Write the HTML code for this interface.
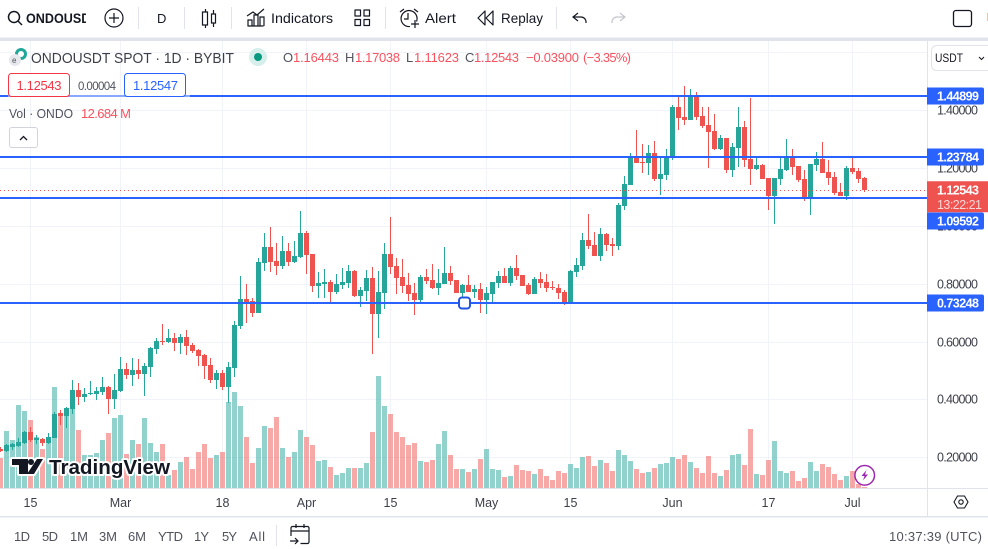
<!DOCTYPE html>
<html lang="en">
<head>
<meta charset="utf-8">
<title>ONDOUSDT SPOT 1D BYBIT chart</title>
<style>
html,body{margin:0;padding:0;background:#fff;width:988px;height:549px;overflow:hidden}
svg{display:block;font-family:"Liberation Sans",sans-serif}
text{white-space:pre}
.ui{fill:#131722;font-size:14px}
.mut{fill:#50535e;font-size:13px}
.red{fill:#f23645;font-size:13px}
.sell{fill:#f7525f;font-size:13px}
.ic{fill:none;stroke:#131722;stroke-width:1.2}
</style>
</head>
<body>
<svg id="chart" xmlns="http://www.w3.org/2000/svg" width="988" height="549" viewBox="0 0 988 549">
  <rect x="0" y="0" width="988" height="549" fill="#fff"/>
  <g id="plot"></g>

  <g>
    <path d="M12 459H28V474H19V465H12ZM31 459a3 3 0 1 1-.01 0ZM37 459H43L34 474H27Z" fill="#131722" stroke="#fff" stroke-width="4" paint-order="stroke" stroke-linejoin="round"/>
    <text x="49" y="474" font-size="20" font-weight="700" fill="#131722" stroke="#fff" stroke-width="4" paint-order="stroke" stroke-linejoin="round" textLength="121" lengthAdjust="spacingAndGlyphs">TradingView</text>
  </g>

  <g>
    <rect x="0" y="0" width="988" height="38" fill="#fff"/>
    <rect x="0" y="37.5" width="988" height="3.5" fill="#e0e3eb"/>
    <g>
      <circle cx="14" cy="17" r="5.5" fill="none" stroke="#131722" stroke-width="1.5"/>
      <path d="M18 21L22 25" stroke="#131722" stroke-width="1.5"/>
      <svg x="26" y="6" width="60" height="24"><text x="0" y="17" font-size="14" font-weight="700" fill="#131722" textLength="72" lengthAdjust="spacingAndGlyphs">ONDOUSDT</text></svg>
    </g>
    <g>
      <circle cx="114" cy="18" r="9" fill="none" stroke="#131722" stroke-width="1.2"/>
      <path d="M109 18H119M114 13V23" stroke="#131722" stroke-width="1.2"/>
    </g>
    <rect x="138" y="7" width="1" height="22" fill="#e0e3eb"/>
    <text x="157" y="23" font-size="13" fill="#131722">D</text>
    <rect x="184" y="7" width="1" height="22" fill="#e0e3eb"/>
    <path class="ic" d="M205.5 9V12M202.5 12h5v13h-5zM205.5 25V28M213.5 10V14M211.5 14h4v9h-4zM213.5 23V27"/>
    <rect x="231" y="7" width="1" height="22" fill="#e0e3eb"/>
    <g>
      <path class="ic" d="M247.5 26h16M248 26v-6h4v6M254 26V15h4v11M260 26v-9h4v9M247 16l6-4 4 3 7-6"/>
      <text class="ui" x="271" y="23" textLength="62" lengthAdjust="spacingAndGlyphs">Indicators</text>
    </g>
    <path class="ic" d="M355 10h5.500v6h-5.500zM364 10h5.500v6h-5.500zM355 19.500h5.500v6h-5.500zM364 19.500h5.500v6h-5.500z" stroke-linejoin="round"/>
    <rect x="385" y="7" width="1" height="22" fill="#e0e3eb"/>
    <g>
      <path class="ic" d="M410 26.500a8 8 0 1 1 6.500-5M408 13v6h-4M400 12l4-3M414 9l4 3M415 20v8M411 24h8"/>
      <text class="ui" x="425" y="23" textLength="31" lengthAdjust="spacingAndGlyphs">Alert</text>
    </g>
    <g>
      <path class="ic" d="M485 11l-7 7 7 7zM493 11l-7 7 7 7z" stroke-linejoin="round"/>
      <text class="ui" x="501" y="23" textLength="42" lengthAdjust="spacingAndGlyphs">Replay</text>
    </g>
    <rect x="556" y="7" width="1" height="22" fill="#e0e3eb"/>
    <path class="ic" d="M578 13l-5 4 5 4M573 17h8a5 5 0 0 1 5 5v1"/>
    <path fill="none" stroke="#c4c6cd" stroke-width="1.2" d="M620 13l5 4-5 4M625 17h-8a5 5 0 0 0-5 5v1"/>
    <rect x="953.500" y="10.500" width="18" height="16" rx="2.500" fill="none" stroke="#131722" stroke-width="1.300"/>
    <rect x="987" y="13" width="1" height="8" fill="#f5c28b"/>
  </g>

  <g>
    <circle cx="21" cy="54" r="6" fill="#1fa89a"/>
    <circle cx="21" cy="54" r="3" fill="#fff"/>
    <circle cx="15" cy="60" r="6" fill="#e6e8ee"/>
    <text x="12" y="63" font-size="8" fill="#50535e">e</text>
    <text x="31" y="63" font-size="15" fill="#3c3f49" textLength="203" lengthAdjust="spacingAndGlyphs">ONDOUSDT SPOT · 1D · BYBIT</text>
    <circle cx="258" cy="57" r="9" fill="#d6efeb"/>
    <circle cx="258" cy="57" r="4" fill="#089981"/>
    <text class="mut" x="283" y="62">O</text>
    <text class="sell" x="293" y="62" textLength="46">1.16443</text>
    <text class="mut" x="345" y="62">H</text>
    <text class="sell" x="355" y="62" textLength="45">1.17038</text>
    <text class="mut" x="406" y="62">L</text>
    <text class="sell" x="414" y="62" textLength="45">1.11623</text>
    <text class="mut" x="465" y="62">C</text>
    <text class="sell" x="474" y="62" textLength="45">1.12543</text>
    <text class="sell" x="526" y="62" textLength="53">−0.03900</text>
    <text class="sell" x="583" y="62" textLength="48">(−3.35%)</text>

    <rect x="8.500" y="73.500" width="61" height="23" rx="3" fill="#fff" stroke="#f23645"/>
    <text class="red" x="16.500" y="90" textLength="45">1.12543</text>
    <text x="78" y="90" font-size="11.500" fill="#50535e" textLength="38">0.00004</text>
    <rect x="124.500" y="73.500" width="61" height="23" rx="3" fill="#fff" stroke="#2962ff"/>
    <text x="133" y="90" font-size="13" fill="#2962ff" textLength="45">1.12547</text>

    <text class="mut" x="9" y="118" textLength="64" lengthAdjust="spacingAndGlyphs">Vol · ONDO</text>
    <text class="sell" x="81" y="118" textLength="50">12.684 M</text>
    <rect x="9.500" y="127.500" width="28" height="20" rx="2.500" fill="#fff" stroke="#d1d4dc"/>
    <path d="M20 140l3.500-3.500 3.500 3.500" fill="none" stroke="#131722" stroke-width="1.300"/>
  </g>

  <g>
    <rect x="931.500" y="45.500" width="62" height="25" rx="5" fill="#fff" stroke="#e0e3eb"/>
    <text x="935" y="62" font-size="12" fill="#131722" textLength="28" lengthAdjust="spacingAndGlyphs">USDT</text>
    <path d="M979 57l2.500 2.500 2.500-2.500" fill="none" stroke="#131722"/>
  </g>

  <g>
    <rect x="459" y="297.500" width="11" height="11" rx="3" fill="#fff" stroke="#2254e0" stroke-width="2"/>
  </g>

  <g>
    <circle cx="864.700" cy="475.300" r="9.800" fill="#fff" stroke="#9c27b0" stroke-width="1.500"/>
    <path d="M866.500 470l-5 6h3l-1.500 4.500 5-6h-3z" fill="#9c27b0"/>
  </g>

  <g>
    <path d="M954 502l3.500-6h7l3.500 6-3.500 6h-7z" fill="none" stroke="#131722" stroke-width="1.100"/>
    <circle cx="961" cy="502" r="2.200" fill="none" stroke="#131722" stroke-width="1.100"/>
  </g>

  <g>
    <rect x="0" y="516" width="988" height="1.500" fill="#e0e3eb"/>
    <text x="14" y="541" font-size="13" fill="#50535e" textLength="16">1D</text>
    <text x="42" y="541" font-size="13" fill="#50535e" textLength="16">5D</text>
    <text x="70" y="541" font-size="13" fill="#50535e" textLength="18">1M</text>
    <text x="99" y="541" font-size="13" fill="#50535e" textLength="18">3M</text>
    <text x="128" y="541" font-size="13" fill="#50535e" textLength="18">6M</text>
    <text x="158" y="541" font-size="13" fill="#50535e" textLength="25">YTD</text>
    <text x="194" y="541" font-size="13" fill="#50535e" textLength="15">1Y</text>
    <text x="222" y="541" font-size="13" fill="#50535e" textLength="15">5Y</text>
    <text x="249" y="541" font-size="13" fill="#50535e" textLength="16">All</text>
    <rect x="276" y="525" width="1" height="21" fill="#e0e3eb"/>
    <path class="ic" d="M291 536v-8a1.500 1.500 0 0 1 1.500-1.500h15a1.500 1.500 0 0 1 1.500 1.500v14a1.500 1.500 0 0 1-1.500 1.500h-7M291 531h18M296 524v4M304 524v4M290 541h8M295 538l3 3-3 3"/>
    <text x="889" y="541" font-size="13" fill="#50535e" textLength="93">10:37:39 (UTC)</text>
  </g>
</svg>

<script>
var firstDate = [2024, 1, 10];
var opens = [.229,.222,.236,.239,.250,.288,.260,.263,.250,.267,.353,.343,.367,.433,.409,.419,.419,.426,.443,.402,.429,.505,.485,.502,.488,.512,.575,.602,.599,.613,.595,.616,.588,.571,.554,.519,.467,.492,.443,.509,.654,.747,.741,.699,.872,.927,.879,.862,.913,.875,.893,.976,.903,.792,.799,.806,.772,.796,.803,.844,.758,.775,.820,.696,.768,.903,.862,.824,.796,.768,.744,.824,.813,.786,.799,.837,.813,.768,.796,.772,.782,.744,.765,.803,.827,.803,.855,.830,.796,.765,.817,.806,.789,.786,.772,.737,.841,.862,.952,.934,.896,.972,.938,.931,1.069,1.142,1.242,1.221,1.218,1.252,1.162,1.176,1.238,1.411,1.377,1.366,1.449,1.380,1.349,1.328,1.266,1.304,1.193,1.270,1.342,1.232,1.197,1.211,1.166,1.104,1.162,1.193,1.242,1.207,1.162,1.093,1.211,1.232,1.187,1.169,1.117,1.104,1.200,1.190,1.16443];
var highs = [.236,.246,.249,.267,.291,.305,.277,.267,.284,.357,.364,.374,.467,.457,.440,.464,.443,.478,.447,.488,.547,.526,.543,.540,.526,.581,.613,.661,.644,.630,.626,.640,.595,.575,.557,.543,.502,.502,.530,.671,.827,.799,.751,.889,.976,.996,.941,.965,.941,.948,1.052,.983,.903,.841,.851,.813,.834,.855,.865,.848,.789,.848,.858,.844,.941,1.031,.889,.886,.837,.803,.831,.851,.869,.851,.927,.862,.813,.799,.830,.796,.803,.789,.806,.844,.855,.862,.900,.830,.803,.824,.841,.834,.810,.799,.779,.848,.889,.976,1.041,.979,.993,.976,.958,1.079,1.173,1.252,1.332,1.283,1.280,1.294,1.242,1.266,1.418,1.453,1.484,1.474,1.463,1.411,1.411,1.387,1.315,1.304,1.287,1.411,1.363,1.442,1.238,1.214,1.166,1.166,1.238,1.301,1.266,1.207,1.193,1.214,1.256,1.290,1.228,1.187,1.149,1.207,1.235,1.200,1.17038];
var lows = [.218,.218,.225,.236,.246,.253,.246,.239,.246,.267,.312,.301,.350,.381,.391,.415,.398,.415,.350,.367,.426,.471,.447,.471,.412,.478,.557,.588,.595,.568,.557,.554,.561,.516,.471,.457,.436,.433,.388,.478,.644,.664,.685,.699,.844,.841,.830,.851,.862,.872,.889,.834,.772,.751,.751,.737,.765,.782,.786,.754,.720,.741,.557,.613,.713,.834,.765,.768,.741,.692,.737,.799,.782,.761,.799,.796,.768,.747,.772,.751,.699,.696,.737,.786,.803,.792,.813,.792,.761,.765,.786,.772,.779,.747,.727,.737,.824,.848,.920,.896,.879,.913,.896,.917,1.055,1.142,1.218,1.183,1.176,1.155,1.107,1.159,1.228,1.332,1.349,1.366,1.366,1.339,1.200,1.263,1.263,1.183,1.169,1.204,1.204,1.142,1.193,1.162,1.055,1.007,1.142,1.190,1.176,1.152,1.086,1.038,1.190,1.183,1.142,1.107,1.104,1.090,1.180,1.149,1.11623];
var closes = [.222,.243,.246,.253,.288,.260,.267,.250,.270,.350,.343,.371,.433,.409,.419,.422,.429,.443,.402,.433,.505,.485,.502,.488,.516,.578,.602,.599,.613,.595,.616,.585,.568,.550,.516,.467,.492,.443,.512,.657,.747,.734,.699,.875,.927,.875,.862,.913,.875,.896,.976,.900,.792,.803,.806,.772,.799,.806,.844,.758,.779,.820,.696,.772,.903,.858,.820,.792,.765,.744,.824,.810,.786,.803,.837,.810,.768,.796,.772,.782,.744,.768,.806,.827,.803,.855,.827,.792,.765,.817,.803,.786,.784,.768,.737,.844,.865,.952,.931,.896,.972,.934,.931,1.072,1.145,1.242,1.218,1.218,1.252,1.162,1.180,1.242,1.411,1.373,1.366,1.449,1.377,1.346,1.325,1.266,1.304,1.193,1.273,1.342,1.228,1.197,1.211,1.162,1.104,1.166,1.197,1.242,1.204,1.159,1.093,1.214,1.232,1.183,1.166,1.114,1.104,1.200,1.187,1.162,1.12543];
var volumes = [255,485,408,706,655,578,434,332,383,859,629,680,697,493,281,281,298,408,468,595,621,289,408,374,595,383,306,374,111,153,221,264,162,306,374,255,281,306,731,816,697,434,213,340,527,510,604,340,264,306,493,434,366,230,238,179,111,128,170,170,170,213,476,952,697,629,476,434,366,383,230,221,238,374,485,281,162,162,136,162,247,332,162,153,94,102,196,153,145,119,162,102,68,145,128,204,170,264,272,187,238,213,145,323,281,230,162,128,136,170,204,213,264,247,281,221,170,128,272,128,102,153,281,289,196,502,119,111,238,400,145,128,145,60,85,221,145,204,179,119,68,102,145,34,12.684];
var levelPrices = [1.44899, 1.23784, 1.09592, 0.73248];
var priceTicks = [0.2, 0.4, 0.6, 0.8, 1.0, 1.2, 1.4, 1.6];
var dateTicks = [[2, 15], [3, 1], [3, 18], [4, 1], [4, 15], [5, 1], [5, 15], [6, 1], [6, 17], [7, 1]];
var dateTickLabels = ['15', 'Mar', '18', 'Apr', '15', 'May', '15', 'Jun', '17', 'Jul'];
var lastPrice = 1.12543;
var countdown = '13:22:21';

var NS = 'http://www.w3.org/2000/svg';
var plot = document.getElementById('plot');
var UP = '#26a69a', DOWN = '#ef5350';

function yOf(p) { return 457.3 - (p - 0.2) * 289.17; }
function xOf(i) { return 6 * i + 0.5; }
function volTop(v) { return 488 - v / 8.5; }
function dayIndex(m, d) {
  return (Date.UTC(2024, m - 1, d) - Date.UTC(firstDate[0], firstDate[1], firstDate[2])) / 86400000;
}
function shape(tag, attrs, parent) {
  var el = document.createElementNS(NS, tag);
  for (var k in attrs) el.setAttribute(k, attrs[k]);
  (parent || plot).appendChild(el);
  return el;
}
function group(name) {
  var g = shape('g', {});
  
  
  return g;
}

var gridG = group('grid-lines');
priceTicks.forEach(function (p) {
  var el = shape('rect', { x: 0, y: Math.round(yOf(p)), width: 927, height: 1, fill: '#f0f3fa' }, gridG);
  
  
});
dateTicks.forEach(function (t) {
  var el = shape('rect', { x: Math.floor(xOf(dayIndex(t[0], t[1]))), y: 41, width: 1, height: 447, fill: '#f0f3fa' }, gridG);
  
  
});

var volG = group('volume-series');
volumes.forEach(function (v, i) {
  var top = Math.round(volTop(v));
  var el = shape('rect', {
    x: Math.floor(xOf(i)) - 2, y: top, width: 5, height: Math.max(1, 488 - top),
    fill: closes[i] >= opens[i] ? 'rgba(38,166,154,0.5)' : 'rgba(239,83,80,0.5)'
  }, volG);
  
  
});

var candleG = group('candlestick-series');
opens.forEach(function (o, i) {
  var c = closes[i];
  var col = c >= o ? UP : DOWN;
  var cx = Math.floor(xOf(i));
  var wTop = Math.round(yOf(highs[i]));
  var wBot = Math.round(yOf(lows[i]));
  var bTop = Math.round(yOf(Math.max(o, c)));
  var bBot = Math.round(yOf(Math.min(o, c)));
  var wick = shape('rect', { x: cx, y: wTop, width: 1, height: Math.max(1, wBot - wTop), fill: col }, candleG);
  
  
  var body = shape('rect', { x: cx - 2, y: bTop, width: 5, height: Math.max(1, bBot - bTop), fill: col }, candleG);
  
  
});

var lastLine = shape('line', {
  x1: 0, x2: 927, y1: Math.round(yOf(lastPrice)) + 0.5, y2: Math.round(yOf(lastPrice)) + 0.5,
  stroke: '#ef5350', 'stroke-width': 1, 'stroke-dasharray': '1 3'
});



var levelG = group('horizontal-levels');
levelPrices.forEach(function (p) {
  var el = shape('rect', { x: 0, y: Math.round(yOf(p)) - 1, width: 927, height: 2, fill: '#2962ff' }, levelG);
  
  
});
var fade = shape('rect', { x: 8, y: 94, width: 182, height: 4, fill: 'rgba(255,255,255,0.45)' });



var axisG = group('axes');
var axisBg = shape('rect', { x: 927, y: 41, width: 61, height: 475, fill: '#fff' }, axisG);


var timeBg = shape('rect', { x: 0, y: 488, width: 988, height: 28, fill: '#fff' }, axisG);


var timeLine = shape('rect', { x: 0, y: 488, width: 988, height: 1, fill: '#e0e3eb' }, axisG);


var priceLine = shape('rect', { x: 927, y: 41, width: 1, height: 475, fill: '#e0e3eb' }, axisG);



priceTicks.forEach(function (p) {
  var t = shape('text', { x: 937, y: Math.round(yOf(p)) + 4.5, 'font-size': 12.5, fill: '#3c3f49', textLength: 41 }, axisG);
  t.textContent = p.toFixed(5);
  
  
});
dateTickLabels.forEach(function (lab, i) {
  var t = shape('text', {
    x: xOf(dayIndex(dateTicks[i][0], dateTicks[i][1])), y: 507, 'font-size': 12.5, fill: '#3c3f49', 'text-anchor': 'middle'
  }, axisG);
  t.textContent = lab;
  
  
});

var lastY = Math.round(yOf(lastPrice));
var tagTop = lastY - 8.7, tagBot = tagTop + 31;
levelPrices.forEach(function (p) {
  var cy = yOf(p);
  if (cy + 8.5 > tagTop && cy - 8.5 < tagBot) cy = tagBot + 8.5;
  cy = Math.round(cy);
  var box = shape('path', {
    d: 'M927 ' + (cy - 8.5) + 'H982a2 2 0 0 1 2 2V' + (cy + 6.5) + 'a2 2 0 0 1-2 2H927Z', fill: '#2962ff'
  }, axisG);
  
  
  var t = shape('text', { x: 937, y: cy + 4.5, 'font-size': 12.5, 'font-weight': 700, fill: '#fff', textLength: 42 }, axisG);
  t.textContent = p.toFixed(5);
  
  
});
var tag = shape('path', {
  d: 'M927 ' + tagTop + 'H988V' + tagBot + 'H927Z', fill: '#ef5350'
}, axisG);


var tagPrice = shape('text', { x: 937, y: tagTop + 13, 'font-size': 12.5, 'font-weight': 700, fill: '#fff', textLength: 42 }, axisG);
tagPrice.textContent = lastPrice.toFixed(5);


var tagTime = shape('text', { x: 937, y: tagTop + 27.5, 'font-size': 12.5, fill: '#fbd5d4', textLength: 45 }, axisG);
tagTime.textContent = countdown;


</script>
</body>
</html>
